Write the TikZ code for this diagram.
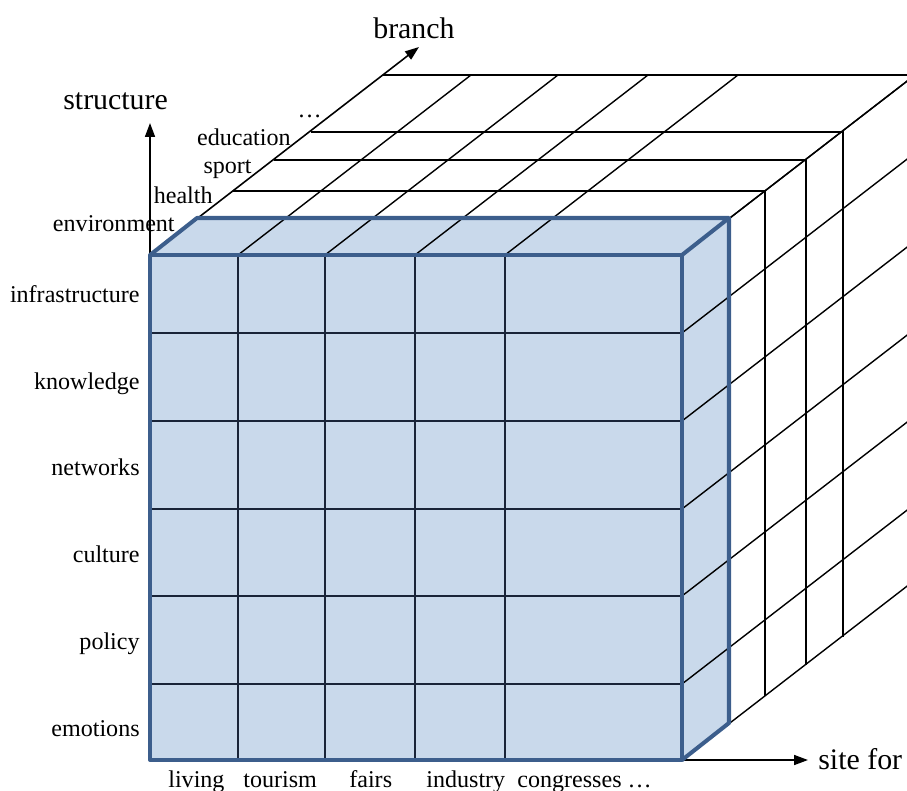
\documentclass[tikz,border=0pt]{standalone}
\usepackage{fontspec}
\setmainfont{Liberation Serif}
\usetikzlibrary{positioning}
\usetikzlibrary{arrows.meta}

\definecolor{cubefill}{RGB}{201,217,235}
\definecolor{cubeborder}{RGB}{60,94,140}
\definecolor{cubeline}{RGB}{25,35,55}

\begin{document}
\begin{tikzpicture}[
x=0.02cm,y=-0.02cm,
gridline/.style={
	% The thin lines of the cube:
	line width=0.8pt,
	draw=black},
frontline/.style={
	% The cells of the front slice:
	line width=0.8pt,
	draw=cubeline},
border/.style={
	% The border of the front slice:
	line width=2.3pt,
	draw=cubeborder,
	line join=round},
axis/.style={
	line width=0.9pt,
	-{Triangle[length=2.8mm,width=2mm]}},
every node/.style={
	inner sep=0pt,
	font=\fontsize{13.7}{16}\selectfont},
axislabel/.style={
	font=\fontsize{17}{20}\selectfont},
]

% frame of the picture
\useasboundingbox (0,0) rectangle (907,791);
\clip (0,0) rectangle (907,791);

% corners of the front slice
\coordinate (A) at (150,255);  % front top left
\coordinate (B) at (682,255);  % front top right
\coordinate (C) at (682,760);  % front bottom right
\coordinate (D) at (150,760);  % front bottom left
\coordinate (A1) at (197,218);
\coordinate (B1) at (729,218);
\coordinate (C1) at (729,723);

% free ends of the axes
\coordinate (structure end) at (150,123);
\coordinate (branch end) at (419,47);
\coordinate (site end) at (808,760);

% front slice, filled
\fill[cubefill] (A) -- (A1) -- (B1) -- (C1) -- (C) -- (D) -- cycle;

% slices behind: top edge and right edge of each
\foreach \dx/\dy in {47/37, 83/64, 124/95, 161/123, 233/180} {
	\draw[gridline] (150+\dx,255-\dy) -- (682+\dx,255-\dy) -- (682+\dx,760-\dy);
}

% columns running back over the top
\foreach \x in {238,325,415,505,682}
	\draw[gridline] (\x,255) -- ++(233,-180);
% rows running back over the right side
\foreach \y in {255,333,421,509,596,684,760}
	\draw[gridline] (682,\y) -- ++(233,-180);

% cells of the front face
\foreach \x in {238,325,415,505}
	\draw[frontline] (\x,255) -- (\x,760);
\foreach \y in {333,421,509,596,684}
	\draw[frontline] (150,\y) -- (682,\y);

% axes
\draw[axis] (A) -- (structure end);
\draw[axis] (A) -- (branch end);
\draw[axis] (C) -- (site end);

% border of the front slice
\draw[border] (A) rectangle (C);
\draw[border] (A) -- (A1) -- (B1) -- (B);
\draw[border] (B1) -- (C1) -- (C);

% axis labels
\node[axislabel, anchor=base west] (structure) at (63,109) {structure};
\node[axislabel, anchor=base west] (branch) at (373,38) {branch};
\node[axislabel, anchor=base west] (site for) at (818,769) {site for};

% structure
\foreach \name/\y in {infrastructure/302, knowledge/389, networks/475,
	culture/562, policy/649, emotions/736}
	\node[anchor=base east] (\name) at (140,\y) {\name};

% branch
\foreach \name/\x/\y in {environment/175/231, health/213/203, sport/252/173,
	education/291/145}
	\node[anchor=base east] (\name) at (\x,\y) {\name};
\node[anchor=base east] (more branches) at (322,117) {\dots};

% site for
\foreach \name/\x in {living/168, tourism/243, fairs/349, industry/426}
	\node[anchor=base west] (\name) at (\x,787) {\name};
\node[anchor=base west] (congresses) at (517,787) {congresses \dots};

\end{tikzpicture}
\end{document}
